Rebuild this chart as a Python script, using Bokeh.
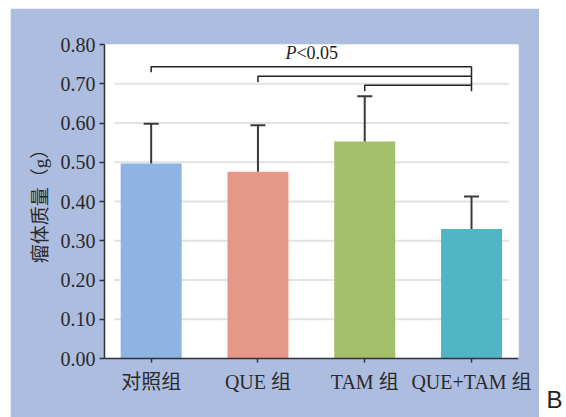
from bokeh.plotting import figure
from bokeh.models import ColumnDataSource, Whisker, TeeHead, FixedTicker, Label, Range1d, Spacer
from bokeh.layouts import row, column
from bokeh.core.properties import value
from bokeh.embed import file_html
from bokeh.resources import INLINE

# ---- data ----
categories = ["对照组", "QUE 组", "TAM 组", "QUE+TAM 组"]
means = [0.497, 0.476, 0.553, 0.330]
err_top = [0.598, 0.594, 0.668, 0.413]
bar_colors = ["#8eb4e3", "#e69888", "#a3bf6a", "#50b6c6"]
y_ticks = [0.0, 0.1, 0.2, 0.3, 0.4, 0.5, 0.6, 0.7, 0.8]
y_tick_labels = ["0.00", "0.10", "0.20", "0.30", "0.40", "0.50", "0.60", "0.70", "0.80"]
bracket_left = [1, 2, 3]          # compared groups (1-based)
bracket_right = 4                 # vs QUE+TAM
bracket_y = [0.743, 0.719, 0.696]
bracket_drop = [0.729, 0.704, 0.681]
sig_text_italic = "P"
sig_text_rest = "<0.05"
y_label = "瘤体质量（g）"
panel_letter = "B"

BG = "#adbde0"
SERIF = "Liberation Serif, Noto Sans CJK SC"

xs = [i + 1 for i in range(len(categories))]
src = ColumnDataSource(dict(x=xs, top=means, upper=err_top, color=bar_colors))

p = figure(width=529, height=409, output_backend="svg", toolbar_location=None,
           x_range=Range1d(0.563, 4.44), y_range=Range1d(0, 0.8),
           min_border_left=94, min_border_right=21, min_border_top=36, min_border_bottom=59,
           background_fill_color="white", border_fill_color=BG, outline_line_color=None)
p.xgrid.visible = False
p.ygrid.visible = False

# custom gridlines (inset from the axes)
gx0 = p.x_range.start + 0.09
gx1 = p.x_range.end - 0.09
gy = y_ticks[1:-1]
p.segment(x0=[gx0] * len(gy), x1=[gx1] * len(gy), y0=gy, y1=gy,
          line_color="#e2e2e2", line_width=2)

p.vbar(x="x", top="top", width=0.571, bottom=0, color="color", line_color=None, source=src)

wh = Whisker(source=src, base="x", lower="top", upper="upper", dimension="height",
             line_color="#3a3a3a", line_width=2,
             upper_head=TeeHead(size=15, line_color="#3a3a3a", line_width=2),
             lower_head=None, level="glyph")
p.add_layout(wh)

# significance brackets
mx, my = [], []
for l, yb, yd in zip(bracket_left, bracket_y, bracket_drop):
    mx.append([l, l, bracket_right])
    my.append([yd, yb, yb])
mx.append([bracket_right, bracket_right])
my.append([max(bracket_y), min(bracket_drop)])
p.multi_line(xs=mx, ys=my, line_color="#222222", line_width=1.5)

p.text(x=[2.36], y=[0.779], text=[sig_text_italic], text_align="right", text_baseline="middle",
       text_font=value("Liberation Serif"), text_font_style="italic",
       text_font_size="18px", text_color="#222222")
p.text(x=[2.36], y=[0.779], text=[sig_text_rest], text_align="left", text_baseline="middle",
       text_font=value("Liberation Serif"), text_font_size="18px", text_color="#222222")

# axes
p.xaxis.ticker = FixedTicker(ticks=xs)
p.xaxis.major_label_overrides = {x: c for x, c in zip(xs, categories)}
p.yaxis.ticker = FixedTicker(ticks=y_ticks)
p.yaxis.major_label_overrides = {t: s for t, s in zip(y_ticks, y_tick_labels)}
for ax in (p.xaxis[0], p.yaxis[0]):
    ax.axis_line_color = "#333333"
    ax.axis_line_width = 1.5
    ax.major_tick_line_color = "#333333"
    ax.major_tick_line_width = 1.5
    ax.major_tick_in = 0
    ax.minor_tick_line_color = None
    ax.major_label_text_font = SERIF
    ax.major_label_text_color = "#2a2a2a"
p.yaxis.major_tick_out = 5
p.xaxis.major_tick_out = 4
p.yaxis.major_label_text_font_size = "20px"
p.yaxis.major_label_standoff = 4
p.xaxis.major_label_text_font_size = "20px"
p.xaxis.major_label_standoff = 8
p.yaxis.axis_label = y_label
p.yaxis.axis_label_text_font = SERIF
p.yaxis.axis_label_text_font_style = "normal"
p.yaxis.axis_label_text_font_size = "19px"
p.yaxis.axis_label_text_color = "#2a2a2a"
p.yaxis.axis_label_standoff = 7

# panel letter
p2 = figure(width=27, height=417, output_backend="svg", toolbar_location=None,
            x_range=Range1d(0, 1), y_range=Range1d(0, 1),
            min_border=0, background_fill_color="white", border_fill_color="white",
            outline_line_color=None)
p2.axis.visible = False
p2.grid.visible = False
p2.add_layout(Label(x=7, y=18, x_units="screen", y_units="screen", text=panel_letter,
                    text_font="Liberation Sans", text_font_size="24px",
                    text_color="#222222", text_baseline="alphabetic"))

layout = row(Spacer(width=10), column(Spacer(height=8), p), p2)
open("out.html", "w").write(file_html(layout, INLINE))
